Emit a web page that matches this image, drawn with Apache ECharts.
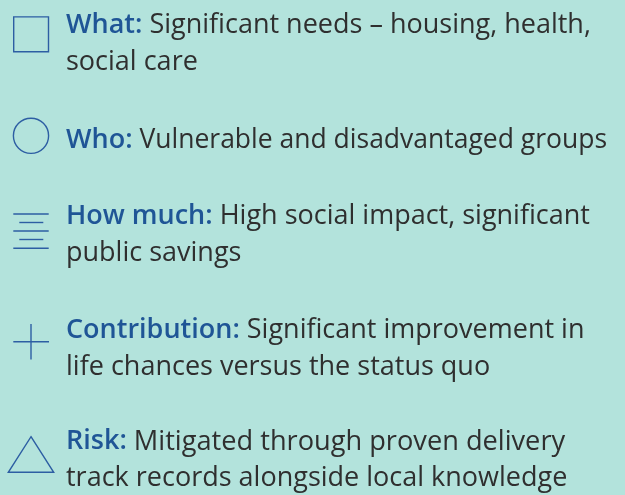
<!DOCTYPE html>
<html><head><meta charset="utf-8">
<script src="https://cdn.jsdelivr.net/npm/echarts@6/dist/echarts.min.js"></script>
<style>html,body{margin:0;padding:0;background:#b3e3dc;}#c{width:625px;height:495px;}</style>
</head><body><div id="c"></div>
<script>
const labels = ['What:', 'Who:', 'How much:', 'Contribution:', 'Risk:'];
const firstLines = [' Significant needs \u2013 housing, health,', ' Vulnerable and disadvantaged groups', ' High social impact, significant', ' Significant improvement in', ' Mitigated through proven delivery'];
const secondLines = ['social care', '', 'public savings', 'life chances versus the status quo', 'track records alongside local knowledge'];
const icons = ['square', 'circle', 'lines', 'plus', 'triangle'];
const baselines = [32.3, 146.7, 223.3, 336.7, 448.3];

const BLUE = '#1f5596';
const DARK = '#2f2f2f';
const ICON = '#2d5ea3';
const FS = 27;
const FS_TIGHT = [27, 26.5, 27, 27, 27.2];
const LINE = 36.8;
const TX = 66;
const OFF = 6.5;

const chart = echarts.init(document.getElementById('c'), null, {renderer: 'canvas'});
const g = [];
labels.forEach((lab, i) => {
  const b = baselines[i];
  g.push({type: 'text', style: {x: TX, y: b - OFF, verticalAlign: 'middle',
    text: '{b|' + lab + '}{n|' + firstLines[i] + '}',
    rich: {b: {fontFamily: 'Open Sans', fontSize: FS, fontWeight: 600, fill: BLUE},
           n: {fontFamily: 'Open Sans', fontSize: FS_TIGHT[i], fill: DARK}}}});
  if (secondLines[i]) {
    g.push({type: 'text', style: {x: TX, y: b + LINE - OFF, verticalAlign: 'middle',
      text: secondLines[i], fontFamily: 'Open Sans', fontSize: FS, fill: DARK}});
  }
});
const st = {stroke: ICON, lineWidth: 1.4, fill: 'none'};
g.push({type: 'rect', shape: {x: 13.7, y: 16.9, width: 34.8, height: 34.8}, style: st});
g.push({type: 'circle', shape: {cx: 31, cy: 135.8, r: 17.6}, style: st});
[[13.3, 48.7, 214], [19.3, 43.3, 222.5], [13.3, 48.7, 231], [19.3, 43.3, 239.5], [13.3, 48.7, 248.3]].forEach(l => {
  g.push({type: 'line', shape: {x1: l[0], y1: l[2], x2: l[1], y2: l[2]}, style: st});
});
g.push({type: 'line', shape: {x1: 31, y1: 324, x2: 31, y2: 359.5}, style: st});
g.push({type: 'line', shape: {x1: 13.3, y1: 341.7, x2: 49, y2: 341.7}, style: st});
g.push({type: 'polygon', shape: {points: [[31, 436.7], [53.7, 472.3], [8.3, 472.3]]}, style: st});

chart.setOption({backgroundColor: '#b3e3dc', graphic: g});
</script></body></html>
